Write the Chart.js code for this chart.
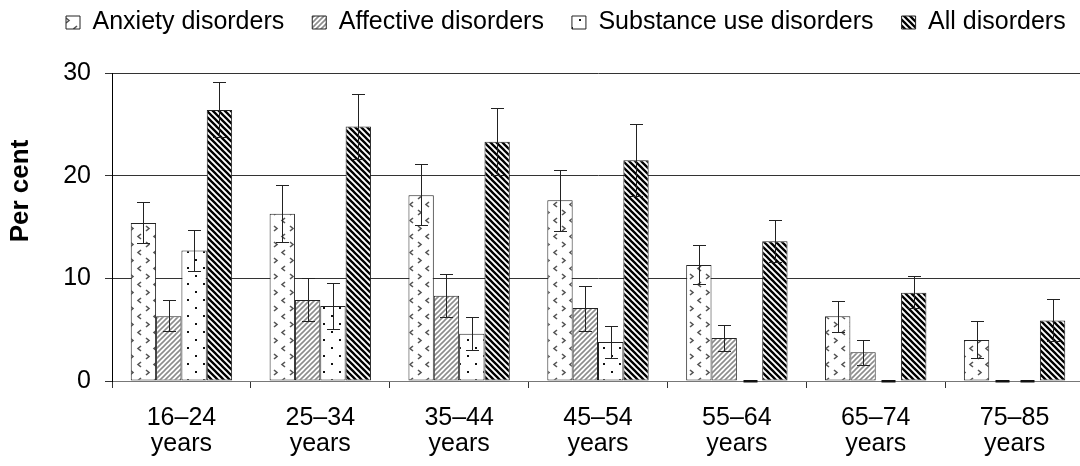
<!DOCTYPE html>
<html>
<head>
<meta charset="utf-8">
<script src="https://cdn.jsdelivr.net/npm/chart.js@4"></script>
<style>
  html, body { margin: 0; padding: 0; background: #fff; overflow: hidden; }
  canvas { display: block; }
</style>
</head>
<body>
<canvas id="chart" width="1140" height="466"></canvas>
<script>
// ---- data ----
const categories = [
  ['16–24', 'years'], ['25–34', 'years'], ['35–44', 'years'], ['45–54', 'years'],
  ['55–64', 'years'], ['65–74', 'years'], ['75–85', 'years']
];
const seriesNames = ['Anxiety disorders', 'Affective disorders', 'Substance use disorders', 'All disorders'];

const anxiety     = [15.4, 16.3, 18.1, 17.6, 11.3, 6.3, 4.0];
const anxietyLow  = [13.4, 13.5, 15.2, 14.6, 9.4, 4.8, 2.2];
const anxietyHigh = [17.4, 19.1, 21.1, 20.6, 13.2, 7.8, 5.8];

const affective     = [6.3, 7.9, 8.3, 7.1, 4.2, 2.8, 0];
const affectiveLow  = [4.9, 5.8, 6.2, 4.9, 2.9, 1.6, 0];
const affectiveHigh = [7.9, 10.0, 10.4, 9.3, 5.5, 4.0, 0];

const substance     = [12.7, 7.3, 4.6, 3.8, 0, 0, 0];
const substanceLow  = [10.7, 5.1, 3.0, 2.2, 0, 0, 0];
const substanceHigh = [14.7, 9.5, 6.2, 5.4, 0, 0, 0];

const allDisorders     = [26.4, 24.8, 23.3, 21.5, 13.6, 8.6, 5.9];
const allDisordersLow  = [23.8, 21.6, 20.1, 18.0, 11.6, 7.1, 3.9];
const allDisordersHigh = [29.1, 28.0, 26.6, 25.0, 15.7, 10.2, 8.0];

const yMin = 0, yMax = 30, yStep = 10;
const yTitle = 'Per cent';

// ---- patterns ----
const FONT = "'Liberation Sans', Arial, sans-serif";
const canvas = document.getElementById('chart');
const mainCtx = canvas.getContext('2d');

function makePattern(w, h, draw) {
  const c = document.createElement('canvas');
  c.width = w; c.height = h;
  const g = c.getContext('2d');
  g.fillStyle = '#fff';
  g.fillRect(0, 0, w, h);
  draw(g, w, h);
  return mainCtx.createPattern(c, 'repeat');
}

const patAnxiety = makePattern(16, 16, (g) => {
  g.strokeStyle = '#555'; g.lineWidth = 1.6;
  g.beginPath();
  g.moveTo(2, 2); g.lineTo(5, 4.5); g.lineTo(2, 7);
  g.moveTo(13, 10); g.lineTo(10, 12.5); g.lineTo(13, 15);
  g.stroke();
});
const patAffective = makePattern(5, 5, (g, s) => {
  g.strokeStyle = '#8c8c8c'; g.lineWidth = 1.6;
  g.beginPath();
  g.moveTo(0, s); g.lineTo(s, 0);
  g.moveTo(-1, 1); g.lineTo(1, -1);
  g.moveTo(s - 1, s + 1); g.lineTo(s + 1, s - 1);
  g.stroke();
});
const patSubstance = makePattern(16, 16, (g) => {
  g.fillStyle = '#111';
  g.fillRect(3, 3, 2, 2);
  g.fillRect(11, 11, 2, 2);
});
const patAll = makePattern(6, 6, (g, s) => {
  g.strokeStyle = '#000'; g.lineWidth = 2.3;
  g.beginPath();
  g.moveTo(0, 0); g.lineTo(s, s);
  g.moveTo(-1, s - 1); g.lineTo(1, s + 1);
  g.moveTo(s - 1, -1); g.lineTo(s + 1, 1);
  g.stroke();
});

// ---- plugins ----
const errorBars = {
  id: 'errorBars',
  afterDatasetsDraw(chart) {
    const ctx = chart.ctx;
    const ys = chart.scales.y;
    chart.data.datasets.forEach((ds, i) => {
      const meta = chart.getDatasetMeta(i);
      meta.data.forEach((bar, j) => {
        const lo = ds.errLow[j], hi = ds.errHigh[j];
        if (lo == null || hi == null) return;
        const x = Math.round(bar.x) + 0.5;
        const yl = Math.round(ys.getPixelForValue(lo)) + 0.5;
        const yh = Math.round(ys.getPixelForValue(hi)) + 0.5;
        ctx.save();
        if (hi === lo) {
          ctx.fillStyle = '#111';
          ctx.fillRect(x - 7, Math.round(ys.getPixelForValue(lo)) - 1, 14, 2.5);
        } else {
          ctx.strokeStyle = '#222';
          ctx.lineWidth = 1;
          ctx.beginPath();
          ctx.moveTo(x, yh); ctx.lineTo(x, yl);
          ctx.moveTo(x - 6.5, yh); ctx.lineTo(x + 6.5, yh);
          ctx.moveTo(x - 6.5, yl); ctx.lineTo(x + 6.5, yl);
          ctx.stroke();
        }
        ctx.restore();
      });
    });
  }
};

const yTitlePlugin = {
  id: 'yTitlePlugin',
  afterDraw(chart) {
    const ctx = chart.ctx;
    ctx.save();
    ctx.translate(21, 191);
    ctx.rotate(-Math.PI / 2);
    ctx.font = "bold 26px " + FONT;
    ctx.fillStyle = '#000';
    ctx.textAlign = 'center';
    ctx.textBaseline = 'middle';
    ctx.fillText(yTitle, 0, 0);
    ctx.restore();
  }
};

function ds(label, data, lo, hi, bg) {
  return {
    label, data, errLow: lo, errHigh: hi,
    backgroundColor: bg, borderColor: '#222', borderWidth: 1,
    borderSkipped: false, xAxisID: 'x', yAxisID: 'y'
  };
}

new Chart(mainCtx, {
  type: 'bar',
  data: {
    labels: categories,
    datasets: [
      ds(seriesNames[0], anxiety, anxietyLow, anxietyHigh, patAnxiety),
      ds(seriesNames[1], affective, affectiveLow, affectiveHigh, patAffective),
      ds(seriesNames[2], substance, substanceLow, substanceHigh, patSubstance),
      ds(seriesNames[3], allDisorders, allDisordersLow, allDisordersHigh, patAll)
    ]
  },
  options: {
    responsive: false,
    animation: false,
    layout: { padding: { left: 38, top: -18, right: 0, bottom: 0 } },
    datasets: { bar: { categoryPercentage: 0.73, barPercentage: 1.0 } },
    plugins: {
      legend: {
        display: true, position: 'top', align: 'start',
        labels: {
          font: { family: FONT, size: 25 }, color: '#000',
          boxWidth: 14, boxHeight: 13, padding: 28
        }
      },
      tooltip: { enabled: false }
    },
    scales: {
      x: {
        axis: 'x', type: 'category', position: 'bottom',
        grid: { display: true, drawOnChartArea: false, drawTicks: true, tickLength: 7, color: '#333', offset: true },
        border: { display: true, color: '#777', width: 1 },
        ticks: { font: { family: FONT, size: 25, lineHeight: 1.05 }, color: '#000', padding: 17, maxRotation: 0, autoSkip: false },
        afterFit(s) { s.height = 85; }
      },
      xTop: {
        axis: 'x', type: 'category', position: 'top', display: true,
        grid: { display: false }, ticks: { display: false }, border: { display: false },
        afterFit(s) { s.height = 28; }
      },
      y: {
        axis: 'y', type: 'linear', position: 'left', min: yMin, max: yMax,
        ticks: { stepSize: yStep, font: { family: FONT, size: 25 }, color: '#000', padding: 14 },
        grid: { color: '#333', tickLength: 7, lineWidth: 1 },
        border: { display: true, color: '#000', width: 1 },
        afterFit(s) { s.width = 74; }
      },
      yRight: {
        axis: 'y', type: 'linear', position: 'right', display: true,
        grid: { display: false }, ticks: { display: false }, border: { display: false },
        afterFit(s) { s.width = 56; }
      }
    }
  },
  plugins: [errorBars, yTitlePlugin]
});
</script>
</body>
</html>
